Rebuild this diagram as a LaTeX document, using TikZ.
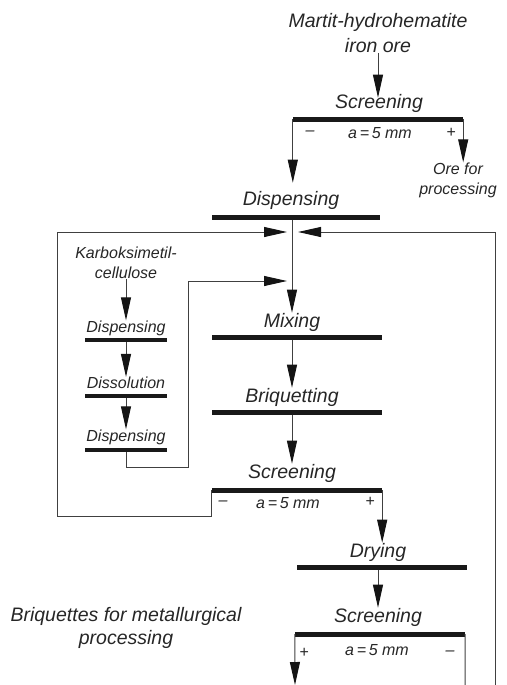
\documentclass[tikz,border=0pt]{standalone}
\usepackage{fontspec}
\setmainfont{Liberation Sans}
\usetikzlibrary{arrows.meta,calc}
\begin{document}
\begin{tikzpicture}[x=1pt,y=-1pt,
  lbl/.style={font=\fontsize{19.5}{25}\selectfont\itshape, inner sep=0pt, align=center, text=black!85},
  slbl/.style={font=\fontsize{16}{20}\selectfont\itshape, inner sep=0pt, align=center, text=black!85},
  tiny/.style={font=\fontsize{16}{18}\selectfont\itshape, inner sep=0pt, text=black!85},
  bar/.style={fill=black!90, inner sep=0pt, minimum height=5pt, minimum width=170pt, draw=none},
  sbar/.style={bar, minimum height=4.5pt, minimum width=82pt},
  ln/.style={line width=1pt, draw=black!75},
  arr/.style={ln, -{Triangle[length=23pt,width=10pt,color=black!92]}}]
\useasboundingbox (0,0) rectangle (506,685);

% main top
\node[lbl, font=\fontsize{19.5}{25}\selectfont\itshape] (ore) at (378,33) {Martit-hydrohematite\\iron ore};
\node[lbl] (scr1) at (379,103) {Screening};
\node[bar] (b1) at (378,119) {};
\node[tiny] (m1) at (310,133) {--};
\node[tiny] (a1) at (380,133) {a\,=\,5 mm};
\node[tiny] (p1) at (451,133) {+};
\node[slbl] (out1) at (458,180) {Ore for\\processing};
\node[lbl] (disp) at (291,200) {Dispensing};
\node[bar, minimum width=168pt] (b2) at (296,217) {};

\coordinate (jL) at (287,232);
\coordinate (jR) at (298,232);
\coordinate (jB) at (287,281);

% binder column
\node[slbl] (cmc) at (126,263) {Karboksimetil-\\cellulose};
\node[slbl] (sd1) at (126,328) {Dispensing};
\node[sbar] (sb1) at (126,340) {};
\node[slbl] (sd2) at (126,383) {Dissolution};
\node[sbar] (sb2) at (126,396) {};
\node[slbl] (sd3) at (126,437) {Dispensing};
\node[sbar] (sb3) at (126,450) {};
\coordinate (bd) at (188,467);

% main column
\node[lbl] (mix) at (292,322) {Mixing};
\node[bar] (b3) at (297,337) {};
\node[lbl] (briq) at (292,397) {Briquetting};
\node[bar] (b4) at (297,412) {};
\node[lbl] (scr2) at (292,473) {Screening};
\node[bar] (b5) at (297,490) {};
\node[tiny] (m2) at (223,503) {--};
\node[tiny] (a2) at (288,503) {a\,=\,5 mm};
\node[tiny] (p2) at (370,502) {+};
\coordinate (fbc) at (57,516);

\node[lbl] (dry) at (378,552) {Drying};
\node[bar] (b6) at (382,567) {};
\node[lbl] (scr3) at (378,617) {Screening};
\node[bar] (b7) at (380,634) {};
\node[tiny] (p3) at (304,653) {+};
\node[tiny] (a3) at (377,650) {a\,=\,5 mm};
\node[tiny] (m3) at (450,653) {--};
\node[lbl, font=\fontsize{19.5}{23}\selectfont\itshape] (prod) at (126,628) {Briquettes for metallurgical\\processing};

\coordinate (botL) at (295,685);
\coordinate (botR) at (465,685);
\coordinate (fbR) at (495,685);

% connectors
\draw[arr] (ore.south) -- ($(ore.south |- scr1.north)+(0,4)$);
\draw[arr] (b1.west) -- ($(b1.west |- disp.north)+(0,-8)$);
\draw[arr] (b1.east) -- (b1.east |- out1.north);
\draw[arr] (b2.south -| mix.north) -- (mix.north);
\draw[arr] (b5.west) |- (fbc) |- (jL);
\draw[arr] (fbR) |- (jR);
\draw[arr] (cmc.south) -- (sd1.north);
\draw[arr] (sb1.south) -- (sd2.north);
\draw[arr] (sb2.south) -- (sd3.north);
\draw[arr] (sb3.south) |- (bd) |- (jB);
\draw[arr] (b3.south -| briq.north) -- (briq.north);
\draw[arr] (b4.south -| scr2.north) -- (scr2.north);
\draw[arr] (b5.east) -- (b5.east |- dry.north);
\draw[arr] (b6.south -| scr3.north) -- (scr3.north);
\draw[arr] (b7.west) -- (botL);
\draw[ln] (b7.east) -- (botR);
\end{tikzpicture}
\end{document}
